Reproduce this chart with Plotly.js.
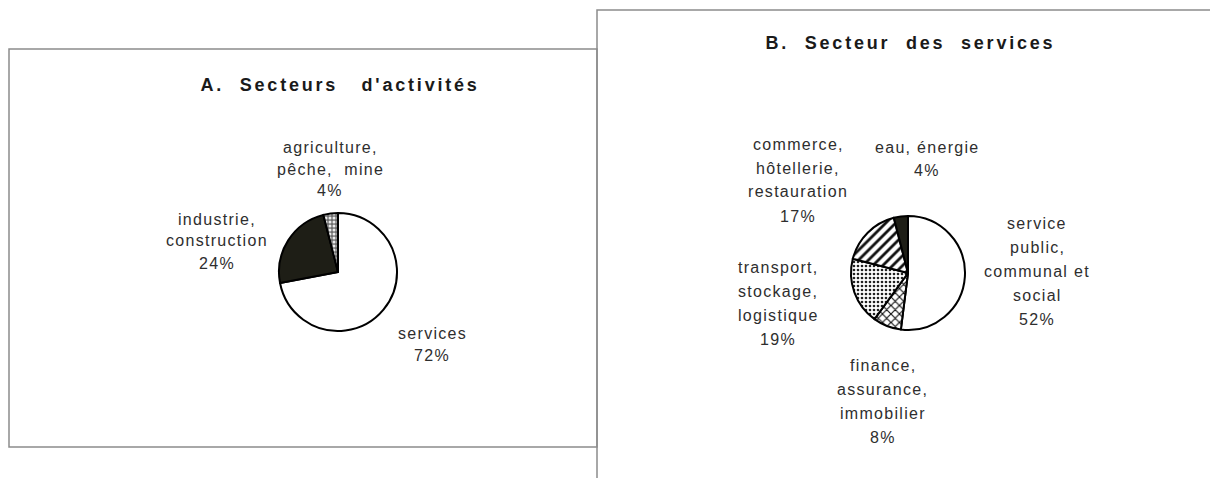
<!DOCTYPE html>
<html>
<head>
<meta charset="utf-8">
<script src="https://cdn.plot.ly/plotly-3.0.1.min.js"></script>
<style>
  html, body { margin: 0; padding: 0; background: #fff; }
  #chart { width: 1210px; height: 478px; }
  .annotation-text { letter-spacing: 1.3px; }
  .annotation[data-index="0"] .annotation-text,
  .annotation[data-index="1"] .annotation-text { letter-spacing: 2.8px; }
</style>
</head>
<body>
<div id="chart"></div>
<script>
// ---- Data ----
const titleA = "A.\u00A0\u00A0Secteurs\u00A0\u00A0\u00A0d'activités";
const titleB = "B.\u00A0\u00A0Secteur\u00A0\u00A0des\u00A0\u00A0services";

const labelsA = ["services", "industrie,<br>construction", "agriculture,<br>pêche,\u00A0 mine"];
const valuesA = [72, 24, 4];

const labelsB = ["service<br>public,<br>communal et<br>social",
                 "finance,<br>assurance,<br>immobilier",
                 "transport,<br>stockage,<br>logistique",
                 "commerce,<br>hôtellerie,<br>restauration",
                 "eau, énergie"];
const valuesB = [52, 8, 19, 17, 4];

// ---- Styles / layout positions (pixels) ----
const W = 1210, H = 478;
const px = x => x / W;
const py = y => 1 - y / H;

const colorsA = ["#ffffff", "#1e1e16", "#707070"];
const patternA = {
  shape: ["", "", "."],
  fgcolor: ["#000", "#000", "#ececec"],
  bgcolor: ["#ffffff", "#1e1e16", "#707070"],
  size: [6, 6, 4],
  solidity: [0.3, 0.3, 0.45],
  fillmode: "replace"
};
const colorsB = ["#ffffff", "#ffffff", "#ffffff", "#ffffff", "#1e1e16"];
const patternB = {
  shape: ["", "x", ".", "/", ""],
  fgcolor: ["#000", "#111", "#222", "#111", "#000"],
  bgcolor: ["#ffffff", "#ffffff", "#ffffff", "#ffffff", "#1e1e16"],
  size: [6, 6, 4, 7, 6],
  solidity: [0.3, 0.35, 0.35, 0.4, 0.3],
  fillmode: "replace"
};

// pie geometry: center & radius in px
const pieA = {cx: 338, cy: 272, r: 59};
const pieB = {cx: 908, cy: 273, r: 57};

// label block centers (px) in same order as labels, and line gaps
const posA = [[432, 344], [217, 241], [330, 169]];
const posB = [[1037, 271], [883, 401], [778, 303], [798, 180], [927, 159]];
const gapA = 22, gapB = 24;

function domainOf(p) {
  return {
    x: [px(p.cx - p.r), px(p.cx + p.r)],
    y: [py(p.cy + p.r), py(p.cy - p.r)]
  };
}

const traces = [
  {
    type: "pie", labels: labelsA, values: valuesA, sort: false,
    direction: "clockwise", rotation: 0, textinfo: "none",
    domain: domainOf(pieA),
    marker: { colors: colorsA, line: { color: "#000", width: 2 }, pattern: patternA },
    showlegend: false
  },
  {
    type: "pie", labels: labelsB, values: valuesB, sort: false,
    direction: "clockwise", rotation: 0, textinfo: "none",
    domain: domainOf(pieB),
    marker: { colors: colorsB, line: { color: "#000", width: 2 }, pattern: patternB },
    showlegend: false
  }
];

const labelFont = { family: "Liberation Sans, Arial, sans-serif", size: 16, color: "#2e2e2e" };
const titleFont = { family: "Liberation Sans, Arial, sans-serif", size: 18, color: "#1a1a1a", weight: "bold" };

const annotations = [
  { text: "<b>" + titleA + "</b>", x: px(340), y: py(85), xref: "paper", yref: "paper",
    showarrow: false, xanchor: "center", yanchor: "middle", font: titleFont },
  { text: "<b>" + titleB + "</b>", x: px(910), y: py(43), xref: "paper", yref: "paper",
    showarrow: false, xanchor: "center", yanchor: "middle", font: titleFont }
];

function addLabel(label, value, pos, gap) {
  const lines = label.split("<br>").concat([value + "%"]);
  const n = lines.length;
  lines.forEach((t, k) => annotations.push({
    text: t, x: px(pos[0]), y: py(pos[1] + (k - (n - 1) / 2) * gap),
    xref: "paper", yref: "paper", showarrow: false,
    xanchor: "center", yanchor: "middle", font: labelFont
  }));
}
labelsA.forEach((l, i) => addLabel(l, valuesA[i], posA[i], gapA));
labelsB.forEach((l, i) => addLabel(l, valuesB[i], posB[i], gapB));

const boxLine = { color: "#8c8c8c", width: 1.5 };
const shapes = [
  { type: "rect", xref: "paper", yref: "paper", x0: px(9), x1: px(597), y0: py(447), y1: py(49), line: boxLine },
  { type: "rect", xref: "paper", yref: "paper", x0: px(597), x1: px(1230), y0: py(500), y1: py(10), line: boxLine }
];

const layout = {
  width: W, height: H,
  margin: { l: 0, r: 0, t: 0, b: 0 },
  paper_bgcolor: "#ffffff",
  plot_bgcolor: "#ffffff",
  annotations: annotations,
  shapes: shapes,
  showlegend: false
};

Plotly.newPlot("chart", traces, layout, { displayModeBar: false, staticPlot: true });
</script>
</body>
</html>
